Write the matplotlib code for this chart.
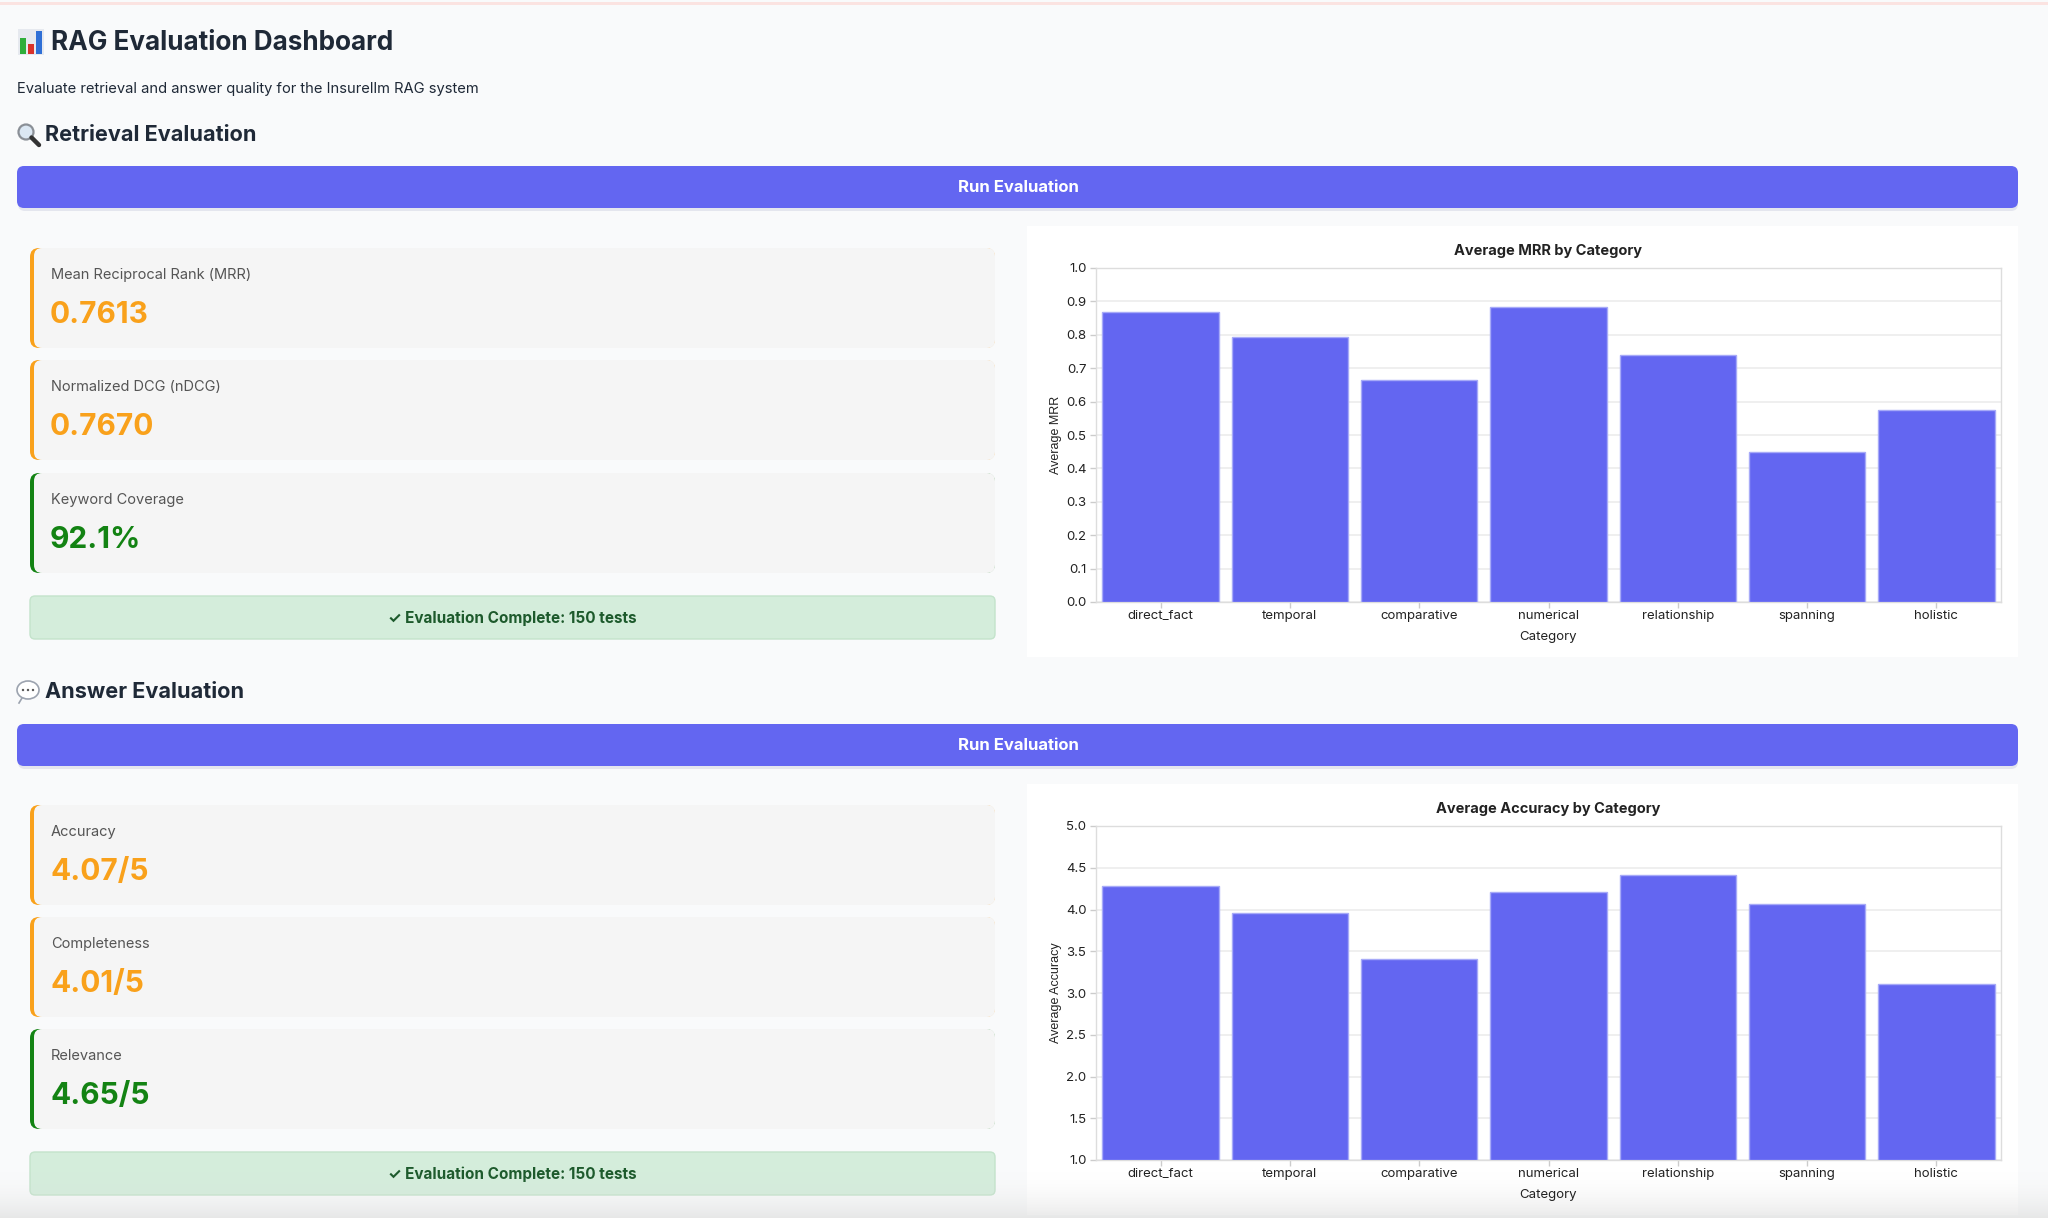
import matplotlib
matplotlib.use('Agg')
import matplotlib.pyplot as plt
from matplotlib.patches import FancyBboxPatch, Rectangle, Circle, Ellipse
import numpy as np

categories = ['direct_fact', 'temporal', 'comparative', 'numerical', 'relationship', 'spanning', 'holistic']
mrr_by_cat = [0.868, 0.794, 0.666, 0.884, 0.739, 0.450, 0.574]
acc_by_cat = [4.28, 3.96, 3.41, 4.21, 4.41, 4.06, 3.11]

retrieval_labels = ['Mean Reciprocal Rank (MRR)', 'Normalized DCG (nDCG)', 'Keyword Coverage']
retrieval_values = ['0.7613', '0.7670', '92.1%']
retrieval_status = ['warn', 'warn', 'good']

answer_labels = ['Accuracy', 'Completeness', 'Relevance']
answer_values = ['4.07/5', '4.01/5', '4.65/5']
answer_status = ['warn', 'warn', 'good']

n_tests = 150

W, H = 2048, 1218
BG = '#f9fafb'
INDIGO = '#6366f1'
ORANGE = '#f9a11b'
GREEN = '#138313'
DARK = '#1f2937'
FONT = ['Inter', 'DejaVu Sans']

plt.rcParams['font.family'] = FONT

fig = plt.figure(figsize=(W / 100, H / 100), dpi=100, facecolor=BG)
page = fig.add_axes([0, 0, 1, 1])
page.set_xlim(0, W)
page.set_ylim(H, 0)
page.axis('off')


def rbox(x0, y0, x1, y1, color, r=6, ec='none', lw=0, z=1):
    p = FancyBboxPatch((x0 + r, y0 + r), (x1 - x0) - 2 * r, (y1 - y0) - 2 * r,
                       boxstyle=f'round,pad={r}', fc=color, ec=ec, lw=lw, zorder=z)
    page.add_patch(p)
    return p


# thin line at the very top
page.add_patch(Rectangle((0, 2), W, 3, fc='#fbe3e1', ec='none'))

# header icon (bar chart)
page.add_patch(Rectangle((18, 29), 26, 26, fc='#e6e9ef', ec='none', zorder=2))
page.add_patch(Rectangle((20, 38), 6, 16, fc='#2fae3a', ec='none', zorder=3))
page.add_patch(Rectangle((28, 44), 6, 10, fc='#d9322b', ec='none', zorder=3))
page.add_patch(Rectangle((36, 31), 6, 23, fc='#2f6fd6', ec='none', zorder=3))
page.text(51, 43, 'RAG Evaluation Dashboard', fontsize=18.8, fontweight='bold',
          color=DARK, va='center', ha='left')
page.text(17, 89, 'Evaluate retrieval and answer quality for the Insurellm RAG system',
          fontsize=10.6, color=DARK, va='center', ha='left')


def section(y, title, icon):
    if icon == 'search':
        page.add_patch(Circle((26, y - 3), 7.5, fc='#dbe7f3', ec='#8a8f96', lw=1.6, zorder=3))
        page.plot([31.5, 39], [y + 2.5, y + 10], color='#333333', lw=3.2,
                  solid_capstyle='round', zorder=3)
    else:
        page.add_patch(Ellipse((28, y - 2), 22, 18, fc='white', ec='#9ca3af', lw=1.2, zorder=3))
        page.plot([22, 19], [y + 6, y + 11], color='#9ca3af', lw=1.2, zorder=3)
        for dx in (-5, 0, 5):
            page.add_patch(Circle((28 + dx, y - 2), 1.2, fc='#555555', ec='none', zorder=4))
    page.text(45, y, title, fontsize=15.6, fontweight='bold', color=DARK, va='center', ha='left')


def button(y0, y1):
    rbox(18, y0 + 3, 2018, y1 + 3, '#e4e6ee', r=7, z=1)
    rbox(17, y0, 2018, y1, INDIGO, r=7, z=2)
    page.text(1018, (y0 + y1) / 2 + 1, 'Run Evaluation', fontsize=12, fontweight='bold',
              color='white', va='center', ha='center', zorder=3)


def cards(tops, labels, values, status, done_y):
    for top, lab, val, st in zip(tops, labels, values, status):
        col = GREEN if st == 'good' else ORANGE
        rbox(30, top, 995, top + 100, col, r=9, z=2)
        rbox(34, top, 995, top + 100, '#f5f5f5', r=8, z=3)
        page.text(51, top + 27, lab, fontsize=10.5, color='#555555', va='center', zorder=4)
        page.text(50, top + 67, val, fontsize=21.5, fontweight='bold', color=col,
                  va='center', zorder=4)
    rbox(30, done_y, 995, done_y + 43, '#d4eddb', r=5, ec='#c3e3cb', lw=1, z=2)
    page.text(512, done_y + 22, f'\u2713 Evaluation Complete: {n_tests} tests', fontsize=11,
              fontweight='bold', color='#1d5a2c', va='center', ha='center', zorder=4,
              family=FONT)


def chart(top, values, ymin, ymax, step, title, ylab):
    page.add_patch(Rectangle((1027, top), 991, 431, fc='white', ec='none', zorder=1))
    ax_top = top + 42
    ax_bot = top + 376
    ax = fig.add_axes([1096 / W, 1 - ax_bot / H, 905 / W, (ax_bot - ax_top) / H])
    ax.set_facecolor('white')
    ax.bar(categories, [v - ymin for v in values], bottom=ymin, width=0.9,
           color=INDIGO, edgecolor='#a7aaf8', linewidth=1.0, zorder=3)
    ax.set_xlim(-0.5, len(categories) - 0.5)
    ax.set_ylim(ymin, ymax)
    ax.set_yticks(np.arange(ymin, ymax + step / 2, step))
    ax.yaxis.set_major_formatter(matplotlib.ticker.FormatStrFormatter('%.1f'))
    ax.grid(axis='y', color='#ececec', lw=1.2, zorder=0)
    for s in ax.spines.values():
        s.set_color('#dddddd')
        s.set_linewidth(1)
    ax.tick_params(axis='both', colors='#cccccc', length=4, width=1, labelsize=9.5,
                   labelcolor='#222222', pad=3)
    ax.tick_params(axis='x', pad=2)
    ax.set_title(title, fontsize=10.5, fontweight='bold', color='#222222', pad=9)
    ax.set_xlabel('Category', fontsize=9.5, color='#222222', labelpad=6)
    ax.set_ylabel(ylab, fontsize=9, color='#222222', labelpad=3, family='Liberation Sans')
    return ax


# retrieval block
section(135, 'Retrieval Evaluation', 'search')
button(166, 208)
cards([248, 360, 473], retrieval_labels, retrieval_values, retrieval_status, 596)
chart(226, mrr_by_cat, 0.0, 1.0, 0.1, 'Average MRR by Category', 'Average MRR')

# answer block
section(692, 'Answer Evaluation', 'chat')
button(724, 766)
cards([805, 917, 1029], answer_labels, answer_values, answer_status, 1152)
chart(784, acc_by_cat, 1.0, 5.0, 0.5, 'Average Accuracy by Category', 'Average Accuracy')

# soft shade at the bottom edge of the screenshot
alpha = np.linspace(0, 1, 64) ** 2 * 0.6
shade = np.zeros((64, 1, 4))
shade[:, 0, :3] = 0.86
shade[:, 0, 3] = alpha
page.imshow(shade, extent=(0, W, H, H - 50), aspect='auto', zorder=10)
page.set_xlim(0, W)
page.set_ylim(H, 0)

fig.savefig('out.png', dpi=100, facecolor=BG)
